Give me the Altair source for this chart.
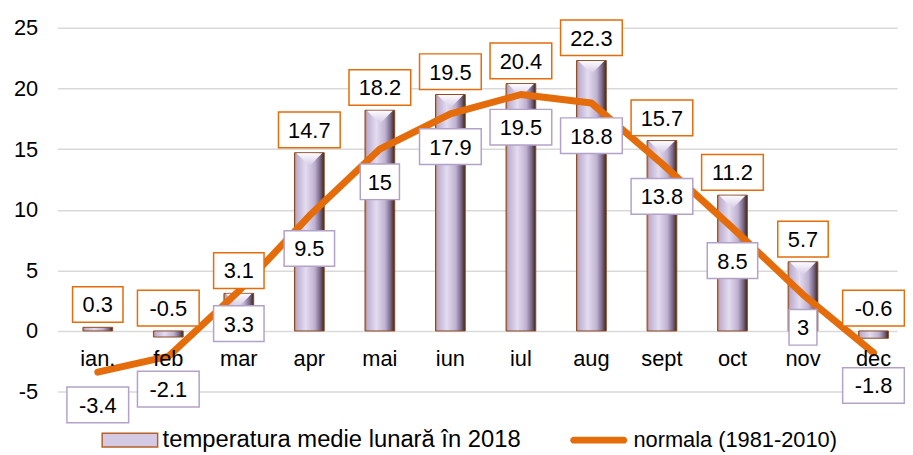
import altair as alt
import pandas as pd

# ---- data ----
months = ["ian.", "feb", "mar", "apr", "mai", "iun", "iul", "aug", "sept", "oct", "nov", "dec"]
temp_2018 = [0.3, -0.5, 3.1, 14.7, 18.2, 19.5, 20.4, 22.3, 15.7, 11.2, 5.7, -0.6]
normala = [-3.4, -2.1, 3.3, 9.5, 15, 17.9, 19.5, 18.8, 13.8, 8.5, 3, -1.8]
y_ticks = [-5, 0, 5, 10, 15, 20, 25]
series_names = ["temperatura medie lunară în 2018", "normala (1981-2010)"]

# ---- layout constants ----
W, H = 847, 367
PXX = 72.0            # pixels per category
PXY = H / 30.0        # pixels per degree
FONT = "Liberation Sans"
FS = 22
ORANGE = "#e46c0a"
PURPLE = "#b3a2c7"

df = pd.DataFrame({"i": list(range(len(months))), "luna": months, "t": temp_2018, "n": normala})
df["t_lab"] = [f"{v:g}" for v in temp_2018]
df["n_lab"] = [f"{v:g}" for v in normala]

base = alt.Chart(df)
xs = alt.Scale(domain=[-0.5, -0.5 + W / PXX], nice=False, zero=False)
ys = alt.Scale(domain=[-5, 25], nice=False)
X = alt.X("i:Q", scale=xs, axis=None)
YAX = alt.Axis(values=y_ticks, grid=True, gridColor="#d9d9d9", gridWidth=1.5,
               domain=False, ticks=False, labelFont=FONT, labelFontSize=FS,
               labelColor="#000000", labelPadding=20, title=None,
               labelExpr="datum.value + ''")


def Y(field):
    return alt.Y(field, scale=ys, axis=YAX, title=None)


bar_grad = {
    "gradient": "linear", "x1": 0, "x2": 1, "y1": 0, "y2": 0,
    "stops": [
        {"offset": 0.0, "color": "#c0703a"},
        {"offset": 0.07, "color": "#bcaed0"},
        {"offset": 0.38, "color": "#e4dcf0"},
        {"offset": 0.68, "color": "#bfb1d1"},
        {"offset": 0.86, "color": "#7a6888"},
        {"offset": 1.0, "color": "#3a2412"},
    ],
}
tri_grad = {
    "gradient": "linear", "x1": 0, "x2": 0, "y1": 0, "y2": 1,
    "stops": [
        {"offset": 0.0, "color": "#fdfbff"},
        {"offset": 1.0, "color": "#d4c9e3"},
    ],
}

bars = base.mark_bar(size=30, fill=bar_grad, stroke="#8a4a1f", strokeWidth=1).encode(
    x=X, y=Y("t:Q"), y2=alt.datum(0),
)

tops = base.transform_filter("datum.t > 2").mark_point(
    shape="M-1,-0.5H1L0,0.5Z", size=676, filled=True, fill=tri_grad, opacity=1,
    strokeWidth=0, yOffset=7,
).encode(x=X, y=Y("t:Q"))

line = base.transform_calculate(s2=f"'{series_names[1]}'").mark_line(
    strokeWidth=7, strokeCap="round", strokeJoin="round"
).encode(
    x=X,
    y=Y("n:Q"),
    stroke=alt.Stroke("s2:N", scale=alt.Scale(domain=[series_names[1]], range=[ORANGE]),
                      legend=alt.Legend(title=None, orient="none", legendX=535, legendY=405,
                                        symbolType="M-3.6,-0.5H3.6A0.5,0.5 0 0 1 3.6,0.5H-3.6A0.5,0.5 0 0 1 -3.6,-0.5Z",
                                        symbolSize=196, symbolStrokeWidth=0,
                                        symbolFillColor=ORANGE,
                                        labelFont=FONT, labelFontSize=FS, labelColor="#000000",
                                        labelOffset=24, padding=0, labelLimit=0)),
)


# label boxes
def boxes(lab, center_expr, color):
    half_w = f"(length(datum.{lab})*11.5+17)/2/{PXX}"
    half_h = 18 / PXY
    c = base.transform_calculate(
        yc=center_expr,
        x1=f"datum.i - {half_w}",
        x2=f"datum.i + {half_w}",
    ).transform_calculate(
        y1=f"datum.yc - {half_h}",
        y2=f"datum.yc + {half_h}",
    )
    rect = c.mark_rect(fill="white", stroke=color, strokeWidth=1.5).encode(
        x=alt.X("x1:Q", scale=xs, axis=None), x2="x2:Q",
        y=Y("y1:Q"), y2="y2:Q",
    )
    txt = c.mark_text(font=FONT, fontSize=FS, color="#000000", baseline="middle", dy=1).encode(
        x=X, y=Y("yc:Q"), text=f"{lab}:N",
    )
    return rect + txt


t_boxes = boxes("t_lab", f"max(datum.t, 0) + {23 / PXY}", ORANGE)
n_boxes = boxes("n_lab", f"datum.n - {33 / PXY}", PURPLE)

cats = base.transform_calculate(z="0").mark_text(
    font=FONT, fontSize=FS, color="#000000", baseline="middle", dy=28
).encode(
    x=X, y=Y("z:Q"), text="luna:N",
)

legend_bar = base.transform_calculate(s1=f"'{series_names[0]}'").transform_filter("false").mark_point(
    filled=True
).encode(
    x=X, y=Y("t:Q"),
    fill=alt.Fill("s1:N", scale=alt.Scale(domain=[series_names[0]], range=["#d4cae3"]),
                  legend=alt.Legend(title=None, orient="none", legendX=61, legendY=404,
                                    symbolType="M-4,-1H4V1H-4Z", symbolSize=196,
                                    symbolStrokeColor="#b5612a", symbolStrokeWidth=1.5,
                                    symbolOpacity=1,
                                    labelFont=FONT, labelFontSize=24, labelColor="#000000",
                                    labelOffset=21, padding=0, labelLimit=0)),
)

chart = alt.layer(bars, tops, line, t_boxes, n_boxes, cats, legend_bar).resolve_scale(
    fill="independent", stroke="independent"
).properties(
    width=W, height=H,
    autosize=alt.AutoSizeParams(type="none"),
    padding={"left": 50, "top": 18, "right": 8, "bottom": 64},
).configure_view(stroke=None)

chart.save("out.html", embed_options={"renderer": "svg", "actions": False})
